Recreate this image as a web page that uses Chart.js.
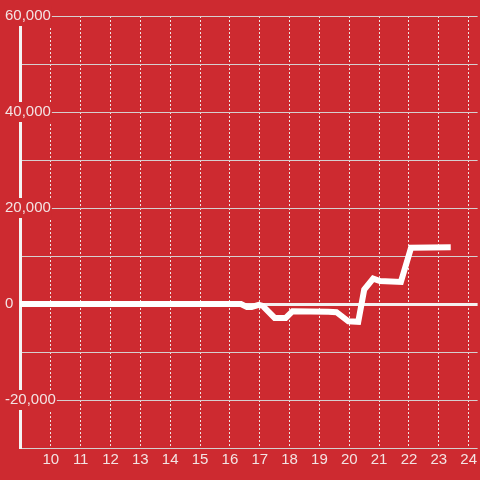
<!DOCTYPE html>
<html>
<head>
<meta charset="utf-8">
<script src="https://cdn.jsdelivr.net/npm/chart.js@4/dist/chart.umd.min.js"></script>
<style>
html,body{margin:0;padding:0;background:#cd2a30;}
#wrap{width:480px;height:480px;position:relative;}
</style>
</head>
<body>
<div id="wrap"><canvas id="c" width="480" height="480"></canvas></div>
<script>
const xValues = [8.967, 16.37, 16.57, 16.73, 16.97, 17.1, 17.5, 17.87, 18.1, 19.3, 19.57, 19.97, 20.3, 20.5, 20.8, 21.03, 21.73, 22.07, 23.4];
const yValues = [0, 0, -600, -600, -200, -400, -2900, -2900, -1500, -1600, -1700, -3600, -3700, 3000, 5300, 4800, 4600, 11700, 11800];
const xTicks = [10, 11, 12, 13, 14, 15, 16, 17, 18, 19, 20, 21, 22, 23, 24];
const yLabelTicks = [60000, 40000, 20000, 0, -20000];

const bg = '#cd2a30';
const txt = '#f3e3e3';
const FONT = {family: 'Liberation Sans, Arial, sans-serif', size: 15};

new Chart(document.getElementById('c'), {
  type: 'line',
  data: {
    datasets: [{
      data: xValues.map((x, i) => ({x: x, y: yValues[i]})),
      borderColor: '#ffffff',
      borderWidth: 6,
      pointRadius: 0,
      tension: 0,
      fill: false
    }]
  },
  options: {
    responsive: false,
    animation: false,
    layout: {padding: {top: 16, left: 5, right: 0, bottom: 0}},
    plugins: {legend: {display: false}, tooltip: {enabled: false}},
    scales: {
      x: {
        type: 'linear',
        min: 8.967,
        max: 24.3,
        afterBuildTicks: axis => { axis.ticks = xTicks.map(v => ({value: v})); },
        afterFit: axis => { axis.height = 32; },
        border: {display: false, dash: [2, 2]},
        grid: {color: '#efe4e4', lineWidth: 1, drawTicks: false},
        ticks: {color: txt, font: FONT, padding: 3, maxRotation: 0, autoSkip: false,
          callback: v => String(v)}
      },
      y: {
        min: -30000,
        max: 60000,
        afterFit: axis => { axis.width = 15; },
        border: {display: true, color: '#f4f4f4', width: 3},
        grid: {
          drawTicks: false,
          color: ctx => ctx.tick && ctx.tick.value === 0 ? '#f4f0f0' : '#d6cfcf',
          lineWidth: ctx => ctx.tick && ctx.tick.value === 0 ? 3 : 1
        },
        ticks: {
          stepSize: 10000,
          color: txt,
          font: FONT,
          mirror: true,
          crossAlign: 'near',
          padding: -15,
          showLabelBackdrop: ctx => yLabelTicks.includes(ctx.tick.value),
          backdropColor: bg,
          backdropPadding: 1,
          callback: v => yLabelTicks.includes(v) ? v.toLocaleString('en-US') : ''
        }
      }
    }
  },
  plugins: [{
    id: 'bgfill',
    beforeDraw(chart) {
      const ctx = chart.ctx;
      ctx.save();
      ctx.fillStyle = bg;
      ctx.fillRect(0, 0, chart.width, chart.height);
      ctx.restore();
    }
  }]
});
</script>
</body>
</html>
